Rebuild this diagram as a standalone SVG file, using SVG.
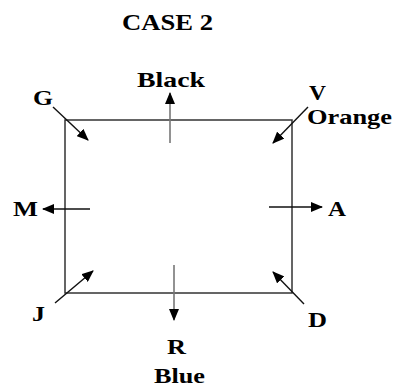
<svg xmlns="http://www.w3.org/2000/svg" width="395" height="387" viewBox="0 0 395 387">
<style>
.t{font-family:"Liberation Serif","Times New Roman",serif;font-weight:bold;font-size:21px;fill:#000}
.c{stroke:#111;stroke-width:1.4;fill:none}
.g{stroke:#777;stroke-width:1.6;fill:none}
</style>
<defs>
<marker id="ah" markerUnits="userSpaceOnUse" markerWidth="12" markerHeight="10" refX="11" refY="5" orient="auto" viewBox="0 0 12 10">
<path d="M0,0 L12,5 L0,10 Z" fill="#000"/>
</marker>
</defs>
<rect width="395" height="387" fill="#fff"/>
<g id="title"><text class="t" x="122" y="30" textLength="91" lengthAdjust="spacingAndGlyphs" style="font-size:23px">CASE 2</text></g>
<g id="box"><rect x="65" y="120" width="227" height="173" fill="none" stroke="#333" stroke-width="1.5"/></g>
<g id="connectors">
<line class="g" x1="170" y1="143" x2="170" y2="93" marker-end="url(#ah)"/>
<line class="g" x1="174" y1="265" x2="174" y2="320" marker-end="url(#ah)"/>
<line class="c" x1="90" y1="209" x2="43" y2="209" marker-end="url(#ah)"/>
<line class="c" x1="269" y1="207" x2="322" y2="207" marker-end="url(#ah)"/>
<line class="c" x1="53" y1="107" x2="88" y2="140" marker-end="url(#ah)"/>
<line class="c" x1="308" y1="107" x2="273" y2="143" marker-end="url(#ah)"/>
<line class="c" x1="55" y1="303" x2="93" y2="271" marker-end="url(#ah)"/>
<line class="c" x1="304" y1="304" x2="273" y2="272" marker-end="url(#ah)"/>
</g>
<g id="black"><text class="t" x="137" y="87" textLength="68" lengthAdjust="spacingAndGlyphs">Black</text></g>
<g id="G"><text class="t" x="33" y="105" textLength="20" lengthAdjust="spacingAndGlyphs">G</text></g>
<g id="V"><text class="t" x="309" y="100" textLength="17" lengthAdjust="spacingAndGlyphs">V</text></g>
<g id="orange"><text class="t" x="307" y="124" textLength="85" lengthAdjust="spacingAndGlyphs">Orange</text></g>
<g id="M"><text class="t" x="13" y="216" textLength="25" lengthAdjust="spacingAndGlyphs">M</text></g>
<g id="A"><text class="t" x="328" y="216" textLength="18" lengthAdjust="spacingAndGlyphs">A</text></g>
<g id="J"><text class="t" x="32" y="321" textLength="13" lengthAdjust="spacingAndGlyphs">J</text></g>
<g id="D"><text class="t" x="308" y="327" textLength="19" lengthAdjust="spacingAndGlyphs">D</text></g>
<g id="R"><text class="t" x="167" y="354" textLength="19" lengthAdjust="spacingAndGlyphs">R</text></g>
<g id="blue"><text class="t" x="154" y="383" textLength="51" lengthAdjust="spacingAndGlyphs">Blue</text></g>
</svg>
